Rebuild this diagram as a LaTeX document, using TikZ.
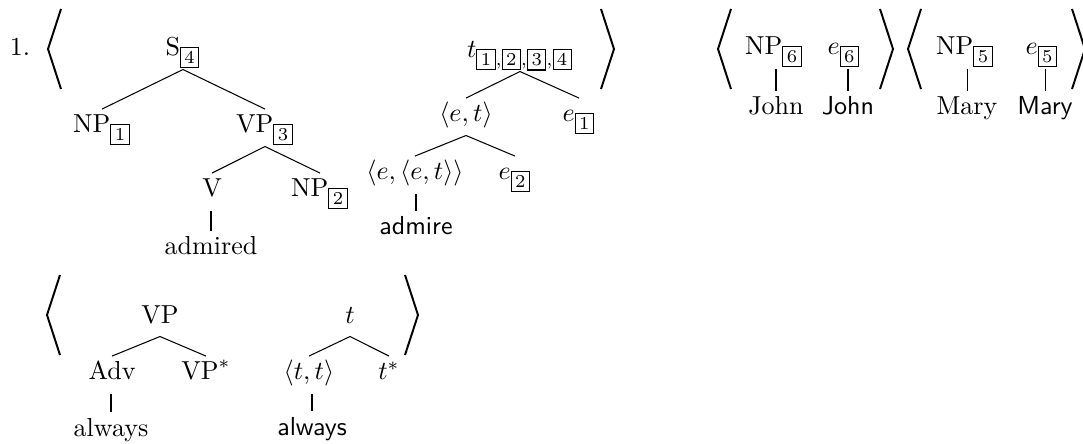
\documentclass[tikz,border=0pt]{standalone}
\usepackage{amsmath}
\usepackage{tikz}

\newcommand{\bx}[1]{\text{\fboxsep=1.3pt\fbox{#1}}}

\begin{document}
\begin{tikzpicture}[x=0.3846pt,y=-0.3846pt,
  cat/.style={anchor=base,inner sep=2pt,text height=7pt,text depth=3pt},
  brak/.style={line width=0.75pt,line join=miter}]
  \useasboundingbox (0,0) rectangle (1083,444);

  \foreach \x/\y/\d in {48/49/1,614/49/-1,718/49/1,893/49/-1,908/49/1,1085/49/-1,47/315/1,418/315/-1} {
    \draw[brak] (\x+\d*13,\y-40) -- (\x,\y) -- (\x+\d*13,\y+40);
  }

  \node[cat] (num) at (20,56) {1.};

  \node[cat] (s4) at (183,56) {$\mathrm{S}_{\bx{4}}$};
  \node[cat] (np1) at (102,133) {$\mathrm{NP}_{\bx{1}}$};
  \node[cat] (vp3) at (265,133) {$\mathrm{VP}_{\bx{3}}$};
  \node[cat] (v) at (212,197) {V};
  \node[cat] (np2) at (320,197) {$\mathrm{NP}_{\bx{2}}$};
  \node[cat] (admired) at (211,255) {admired};

  \node[cat] (t4) at (520,58) {$t_{\bx{1},\bx{2},\bx{3},\bx{4}}$};
  \node[cat] (et) at (466,122) {$\langle e,t\rangle$};
  \node[cat] (e1) at (579,122) {$e_{\bx{1}}$};
  \node[cat] (eet) at (415,180) {$\langle e,\langle e,t\rangle\rangle$};
  \node[cat] (e2) at (515,180) {$e_{\bx{2}}$};
  \node[cat] (admire) at (416,235) {\textsf{admire}};

  \node[cat] (np6) at (774,55) {$\mathrm{NP}_{\bx{6}}$};
  \node[cat] (e6) at (844,55) {$e_{\bx{6}}$};
  \node[cat] (john) at (776,115) {John};
  \node[cat] (johnsf) at (848,115) {\textsf{John}};
  \node[cat] (np5) at (965,55) {$\mathrm{NP}_{\bx{5}}$};
  \node[cat] (e5) at (1042,55) {$e_{\bx{5}}$};
  \node[cat] (mary) at (967,115) {Mary};
  \node[cat] (marysf) at (1045,115) {\textsf{Mary}};

  \node[cat] (vp) at (160,323) {VP};
  \node[cat] (adv) at (112,380) {Adv};
  \node[cat] (vpf) at (206,380) {$\mathrm{VP}^*$};
  \node[cat] (always) at (111,436) {always};
  \node[cat] (t) at (350,323) {$t$};
  \node[cat] (tt) at (309,380) {$\langle t,t\rangle$};
  \node[cat] (tf) at (389,380) {$t^*$};
  \node[cat] (alwayssf) at (312,435) {\textsf{always}};

  \foreach \a/\b in {s4/np1,s4/vp3,vp3/v,vp3/np2,t4/et,t4/e1,et/eet,et/e2,vp/adv,vp/vpf,t/tt,t/tf} {
    \draw (\a.south) -- (\b.north);
  }
  \foreach \a/\b in {v/admired,eet/admire,np6/john,e6/johnsf,np5/mary,e5/marysf,adv/always,tt/alwayssf} {
    \draw (\b.north |- \a.south) -- (\b.north);
  }
\end{tikzpicture}
\end{document}
